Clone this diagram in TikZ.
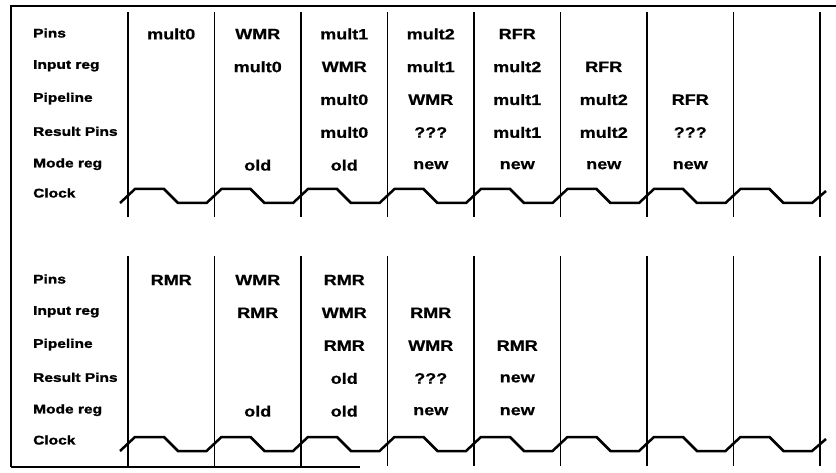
\documentclass[tikz,border=0pt]{standalone}
\usepackage{fontspec}
\newfontfamily\lblfont[FakeStretch=1.24, BoldFeatures={FakeBold=1.6}]{Liberation Sans}
\newfontfamily\valfont[FakeStretch=1.2, BoldFeatures={FakeBold=0.6}]{Liberation Sans}
\tikzset{
  lbl/.style={anchor=west, inner sep=0pt, font=\lblfont\bfseries\fontsize{12.5}{14}\selectfont},
  valtext/.style={anchor=center, inner sep=0pt, font=\valfont\bfseries\fontsize{15}{17}\selectfont},
  frameline/.style={line width=2.8pt},
  thinframe/.style={line width=1.1pt},
  sepline/.style={line width=1.8pt},
  clockline/.style={line width=2.5pt, line join=miter},
}
\begin{document}
\begin{tikzpicture}[x=1pt,y=-1pt]
\useasboundingbox (0,0) rectangle (836,473);
% frame
\coordinate (ftl) at (11,6);
\coordinate (ftr) at (836,6);
\coordinate (fbl) at (11,467);
\coordinate (fbr) at (360,467);
\draw[frameline] (ftr) -- (ftl) -- (fbl);
\draw[thinframe] (fbl) -- (fbr);
% vertical separators
\foreach \i in {0,...,8} {
  \coordinate (tt\i) at ({128+86.5*\i},12);
  \coordinate (tb\i) at ({128+86.5*\i},217);
  \coordinate (bt\i) at ({128+86.5*\i},256);
  \coordinate (bb\i) at ({128+86.5*\i},466);
  \draw[sepline] (tt\i) -- (tb\i);
  \draw[sepline] (bt\i) -- (bb\i);
}
% clocks
\draw[clockline] (120,203) \foreach \i in {0,...,7} {
  -- ({128+86.5*\i+7},189) -- ({128+86.5*\i+36},189) -- ({128+86.5*\i+50},203) -- ({128+86.5*(\i+1)-8},203) } -- (826,191);
\draw[clockline] (120,451) \foreach \i in {0,...,7} {
  -- ({128+86.5*\i+7},437) -- ({128+86.5*\i+36},437) -- ({128+86.5*\i+50},451) -- ({128+86.5*(\i+1)-8},451) } -- (826,439);
% row labels
\foreach \n/\t [count=\r] in {a/Pins, b/Input reg, c/Pipeline, d/Result Pins, e/Mode reg} {
  \node[lbl] (lt\n) at (33,{33+32.8*(\r-1)}) {\t};
  \node[lbl] (lb\n) at (33,{279+32.8*(\r-1)}) {\t};
}
\node[lbl] (ltclk) at (33,193) {Clock};
\node[lbl] (lbclk) at (33,440) {Clock};
% top values
\foreach \c/\r/\t in {1/1/mult0,
  2/1/WMR, 2/2/mult0, 2/5/old,
  3/1/mult1, 3/2/WMR, 3/3/mult0, 3/4/mult0, 3/5/old,
  4/1/mult2, 4/2/mult1, 4/3/WMR, 4/4/???, 4/5/new,
  5/1/RFR, 5/2/mult2, 5/3/mult1, 5/4/mult1, 5/5/new,
  6/2/RFR, 6/3/mult2, 6/4/mult2, 6/5/new,
  7/3/RFR, 7/4/???, 7/5/new} {
  \node[valtext] (vt\c\r) at ({171.25+86.5*(\c-1)},{34+32.8*(\r-1)}) {\t};
}
% bottom values
\foreach \c/\r/\t in {1/1/RMR,
  2/1/WMR, 2/2/RMR, 2/5/old,
  3/1/RMR, 3/2/WMR, 3/3/RMR, 3/4/old, 3/5/old,
  4/2/RMR, 4/3/WMR, 4/4/???, 4/5/new,
  5/3/RMR, 5/4/new, 5/5/new} {
  \node[valtext] (vb\c\r) at ({171.25+86.5*(\c-1)},{280+32.8*(\r-1)}) {\t};
}
\end{tikzpicture}
\end{document}
